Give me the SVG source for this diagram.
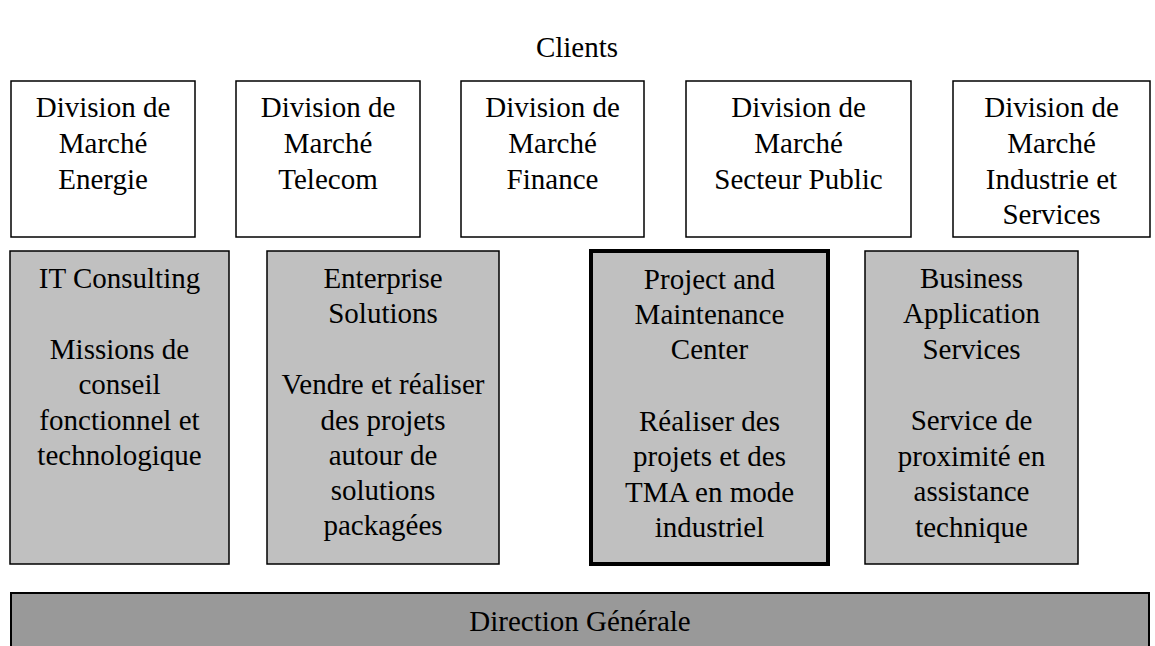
<svg xmlns="http://www.w3.org/2000/svg" width="1155" height="646" viewBox="0 0 1155 646">
<style>
text{font-family:'Liberation Serif','Times New Roman',Times,Tinos,'Noto Serif','Nimbus Roman','FreeSerif','DejaVu Serif',serif;font-size:29px;fill:#000;text-anchor:middle}
.top{fill:#fff;stroke:#000;stroke-width:1.5}
.mid{fill:#c0c0c0;stroke:#000;stroke-width:1.5}
.thick{fill:#c0c0c0;stroke:#000;stroke-width:4}
.base{fill:#999;stroke:#000;stroke-width:2}
</style>
<rect width="1155" height="646" fill="#fff"/>
<g id="clients"><text x="577" y="57">Clients</text></g>
<g id="dm-energie"><rect class="top" x="11" y="81" width="184" height="156"/>
<text x="103" y="117">Division de</text><text x="103" y="153">Marché</text><text x="103" y="189">Energie</text></g>
<g id="dm-telecom"><rect class="top" x="236" y="81" width="184" height="156"/>
<text x="328" y="117">Division de</text><text x="328" y="153">Marché</text><text x="328" y="189">Telecom</text></g>
<g id="dm-finance"><rect class="top" x="461" y="81" width="183" height="156"/>
<text x="552.5" y="117">Division de</text><text x="552.5" y="153">Marché</text><text x="552.5" y="189">Finance</text></g>
<g id="dm-public"><rect class="top" x="686" y="81" width="225" height="156"/>
<text x="798.5" y="117">Division de</text><text x="798.5" y="153">Marché</text><text x="798.5" y="189">Secteur Public</text></g>
<g id="dm-industrie"><rect class="top" x="953" y="81" width="197" height="156"/>
<text x="1051.5" y="117">Division de</text><text x="1051.5" y="153">Marché</text><text x="1051.5" y="189">Industrie et</text><text x="1051.5" y="224">Services</text></g>
<g id="it-consulting"><rect class="mid" x="10" y="251" width="219" height="313"/>
<text x="119.5" y="288">IT Consulting</text><text x="119.5" y="359">Missions de</text><text x="119.5" y="394">conseil</text><text x="119.5" y="430">fonctionnel et</text><text x="119.5" y="465">technologique</text></g>
<g id="enterprise-solutions"><rect class="mid" x="267" y="251" width="232" height="313"/>
<text x="383" y="288">Enterprise</text><text x="383" y="323">Solutions</text><text x="383" y="394">Vendre et réaliser</text><text x="383" y="430">des projets</text><text x="383" y="465">autour de</text><text x="383" y="500">solutions</text><text x="383" y="535">packagées</text></g>
<g id="pmc"><rect class="thick" x="591" y="251" width="237" height="313"/>
<text x="709.5" y="289">Project and</text><text x="709.5" y="324">Maintenance</text><text x="709.5" y="359">Center</text><text x="709.5" y="431">Réaliser des</text><text x="709.5" y="466">projets et des</text><text x="709.5" y="502">TMA en mode</text><text x="709.5" y="537">industriel</text></g>
<g id="bas"><rect class="mid" x="865" y="251" width="213" height="313"/>
<text x="971.5" y="288">Business</text><text x="971.5" y="323">Application</text><text x="971.5" y="359">Services</text><text x="971.5" y="430">Service de</text><text x="971.5" y="466">proximité en</text><text x="971.5" y="501">assistance</text><text x="971.5" y="537">technique</text></g>
<g id="direction-generale"><rect class="base" x="11" y="593" width="1138" height="60"/>
<text x="580" y="631">Direction Générale</text></g>
<g id="connectors"></g>
</svg>
